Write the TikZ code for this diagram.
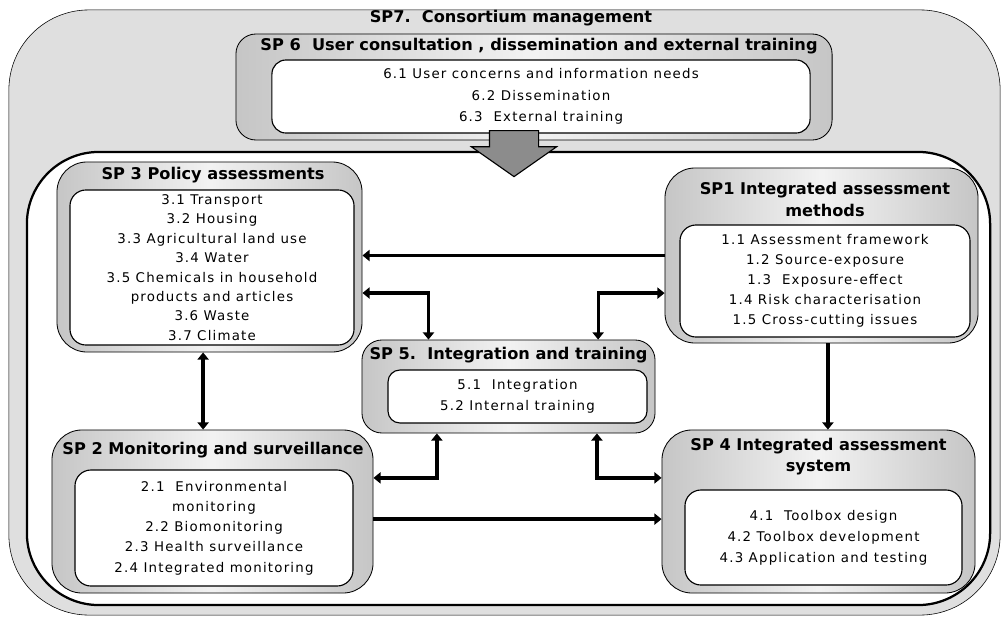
\documentclass[tikz,border=0pt]{standalone}
\usepackage{fontspec}
\setmainfont{DejaVu Sans}
\newfontfamily\itemfont{DejaVu Sans}[LetterSpace=9]
\usepackage{tikz}
\usetikzlibrary{shapes,arrows.meta,positioning,calc}

\begin{document}
\begin{tikzpicture}[x=0.025cm, y=-0.025cm,
        frame/.style={rectangle, draw, line width=0.6pt, rounded corners=0.75cm, left color=gray!45, right color=gray!45, middle color=gray!10},
        items/.style={rectangle, draw, line width=0.8pt, fill=white, rounded corners=0.4cm, inner sep=2pt, align=center, font=\itemfont\fontsize{9.5}{13.8}\selectfont},
        head/.style={align=center, inner sep=0pt, font=\bfseries\fontsize{11.5}{15}\selectfont},
        link/.style={line width=2.3pt, >={Triangle[length=1.8mm, width=2.8mm]}}]

        \useasboundingbox (0,0) rectangle (1003,618);

        % consortium management
        \node [rectangle, draw, fill=gray!25, rounded corners=2cm, minimum width=24.775cm, minimum height=15.125cm] (sp7) at (504.5,312.5) {};
        \node [head] (sp7t) at (511,18) {SP7.\ \ Consortium management};

        % user consultation
        \node [frame, rounded corners=0.5cm, minimum width=14.9cm, minimum height=2.65cm] (sp6) at (534,87) {};
        \node [head] (sp6t) at (539,46) {SP 6\ \ User consultation , dissemination and external training};
        \node [items, rounded corners=0.35cm, minimum width=13.45cm, minimum height=1.825cm, font=\itemfont\fontsize{9.5}{15.3}\selectfont] (sp6i) at (541,96.5) {6.1 User concerns and information needs\\6.2 Dissemination\\6.3\ \ External training};

        % work area
        \node [rectangle, draw, fill=white, line width=1.6pt, rounded corners=1.8cm, minimum width=24.075cm, minimum height=11.325cm] (core) at (508.5,378.5) {};

        \node [frame, minimum width=7.625cm, minimum height=4.75cm] (sp3) at (209.5,257) {};
        \node [head] (sp3t) at (213,175) {SP 3 Policy assessments};
        \node [items, minimum width=7.1cm, minimum height=3.875cm] (sp3i) at (212,267.5) {3.1 Transport\\3.2 Housing\\3.3 Agricultural land use\\3.4 Water\\3.5 Chemicals in household\\products and articles\\3.6 Waste\\3.7 Climate};

        \node [frame, minimum width=7.825cm, minimum height=4.375cm] (sp1) at (821.5,255.5) {};
        \node [head] (sp1t) at (825,199.5) {SP1 Integrated assessment\\methods};
        \node [items, minimum width=7.25cm, minimum height=2.8cm, font=\itemfont\fontsize{9.5}{14.2}\selectfont] (sp1i) at (825,281) {1.1 Assessment framework\\1.2 Source-exposure\\1.3\ \ Exposure-effect\\1.4 Risk characterisation\\1.5 Cross-cutting issues};

        \node [frame, rounded corners=0.5cm, minimum width=7.325cm, minimum height=2.325cm] (sp5) at (508.5,386.5) {};
        \node [head] (sp5t) at (508.5,355) {SP 5.\ \ Integration and training};
        \node [items, rounded corners=0.3cm, minimum width=6.475cm, minimum height=1.325cm, font=\itemfont\fontsize{9.5}{15}\selectfont] (sp5i) at (517.5,396.5) {5.1\ \ Integration\\5.2 Internal training};

        \node [frame, minimum width=8.025cm, minimum height=4.075cm] (sp2) at (212.5,511.5) {};
        \node [head] (sp2t) at (213,450) {SP 2 Monitoring and surveillance};
        \node [items, minimum width=6.95cm, minimum height=2.9cm, font=\itemfont\fontsize{9.5}{14.4}\selectfont] (sp2i) at (214,528) {2.1\ \ Environmental\\monitoring\\2.2 Biomonitoring\\2.3 Health surveillance\\2.4 Integrated monitoring};

        \node [frame, minimum width=7.825cm, minimum height=4.075cm] (sp4) at (818.5,511.5) {};
        \node [head] (sp4t) at (818.5,456.5) {SP 4 Integrated assessment\\system};
        \node [items, minimum width=6.925cm, minimum height=2.375cm, font=\itemfont\fontsize{9.5}{14.8}\selectfont] (sp4i) at (823.5,537.5) {4.1\ \ Toolbox design\\4.2 Toolbox development\\4.3 Application and testing};

        % flow into the work area
        \node [single arrow, draw, fill=gray!90, line width=0.8pt, rotate=-90, minimum height=1.15cm, single arrow head extend=0.45cm, single arrow tip angle=110, inner sep=0pt] (feed) at (514,145) {\rule{0pt}{1.2cm}};

        \path [draw, link, ->] (sp1.west) -- (sp1.west -| sp3.east);
        \path [draw, link, <->] ([yshift=-0.9cm]sp3.east) -| ([xshift=-2cm]sp5.north);
        \path [draw, link, <->] ([yshift=-0.94cm]sp1.west) -| ([xshift=2.24cm]sp5.north);
        \path [draw, link, <->] ([xshift=-0.16cm]sp3.south) -- ([xshift=-0.16cm]sp3.south |- sp2.north);
        \path [draw, link, ->] ([xshift=0.16cm]sp1.south) -- ([xshift=0.16cm]sp1.south |- sp4.north);
        \path [draw, link, <->] ([yshift=0.84cm]sp2.east) -| ([xshift=-1.79cm]sp5.south);
        \path [draw, link, <->] ([yshift=0.84cm]sp4.west) -| ([xshift=2.21cm]sp5.south);
        \path [draw, link, ->] ([yshift=-0.19cm]sp2.east) -- ([yshift=-0.19cm]sp2.east -| sp4.west);
    \end{tikzpicture}
\end{document}
